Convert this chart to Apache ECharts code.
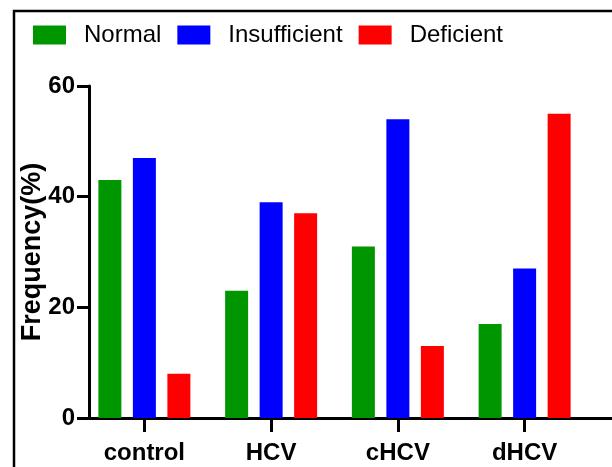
<!DOCTYPE html>
<html>
<head>
<meta charset="utf-8">
<script src="https://cdn.jsdelivr.net/npm/echarts@6/dist/echarts.min.js"></script>
<style>html,body{margin:0;padding:0;background:#fff}#c{width:612px;height:467px}</style>
</head>
<body>
<div id="c"></div>
<script>
var categories = ['control', 'HCV', 'cHCV', 'dHCV'];
var normal = [43, 23, 31, 17];
var insufficient = [47, 39, 54, 27];
var deficient = [8, 37, 13, 55];
var yTicks = [0, 20, 40, 60];

var font = "'Liberation Sans', Arial, Helvetica, sans-serif";
var chart = echarts.init(document.getElementById('c'), null, {renderer: 'canvas'});
chart.setOption({
  animation: false,
  backgroundColor: '#fff',
  graphic: [{
    type: 'rect', silent: true, z: 100,
    shape: {x: 14, y: 11, width: 700, height: 600},
    style: {fill: 'none', stroke: '#000', lineWidth: 2.5}
  }],
  legend: {
    left: 33, top: 23, padding: 0,
    itemWidth: 33, itemHeight: 19, itemGap: 16,
    icon: 'rect',
    textStyle: {fontFamily: font, fontSize: 24, color: '#000', padding: [0, 0, 0, 13], lineHeight: 19},
    data: ['Normal', 'Insufficient', 'Deficient']
  },
  grid: [
    {left: 81, right: 24, top: 86, bottom: 49},
    {left: 89, right: 0, top: 86, bottom: 49}
  ],
  xAxis: [
    {
      type: 'category', gridIndex: 0, data: categories,
      axisLine: {show: false},
      axisTick: {show: true, alignWithLabel: true, length: 14, lineStyle: {color: '#000', width: 3}},
      axisLabel: {color: '#000', fontFamily: font, fontWeight: 'bold', fontSize: 24, margin: 23}
    },
    {
      type: 'category', gridIndex: 1, data: categories,
      axisLine: {show: true, lineStyle: {color: '#000', width: 3}},
      axisTick: {show: false}, axisLabel: {show: false}
    }
  ],
  yAxis: [
    {type: 'value', gridIndex: 0, min: 0, max: 60, interval: 20, show: false},
    {
      type: 'value', gridIndex: 1, min: 0, max: 60, interval: 20,
      name: 'Frequency(%)', nameLocation: 'middle', nameGap: 43, nameRotate: 90,
      nameMoveOverlap: false,
      nameTextStyle: {color: '#000', fontFamily: font, fontWeight: 'bold', fontSize: 27},
      splitLine: {show: false},
      axisLine: {show: true, lineStyle: {color: '#000', width: 3}},
      axisTick: {show: true, length: 12, lineStyle: {color: '#000', width: 3}},
      axisLabel: {color: '#000', fontFamily: font, fontWeight: 'bold', fontSize: 24, margin: 14,
        formatter: function (v) { return yTicks.indexOf(v) >= 0 ? String(v) : ''; }}
    }
  ],
  series: [
    {name: 'Normal', type: 'bar', xAxisIndex: 0, yAxisIndex: 0, data: normal, barWidth: 23, barGap: '50%', itemStyle: {color: '#009600'}},
    {name: 'Insufficient', type: 'bar', xAxisIndex: 0, yAxisIndex: 0, data: insufficient, barWidth: 23, barGap: '50%', itemStyle: {color: '#0000ff'}},
    {name: 'Deficient', type: 'bar', xAxisIndex: 0, yAxisIndex: 0, data: deficient, barWidth: 23, barGap: '50%', itemStyle: {color: '#ff0000'}}
  ]
});
</script>
</body>
</html>
